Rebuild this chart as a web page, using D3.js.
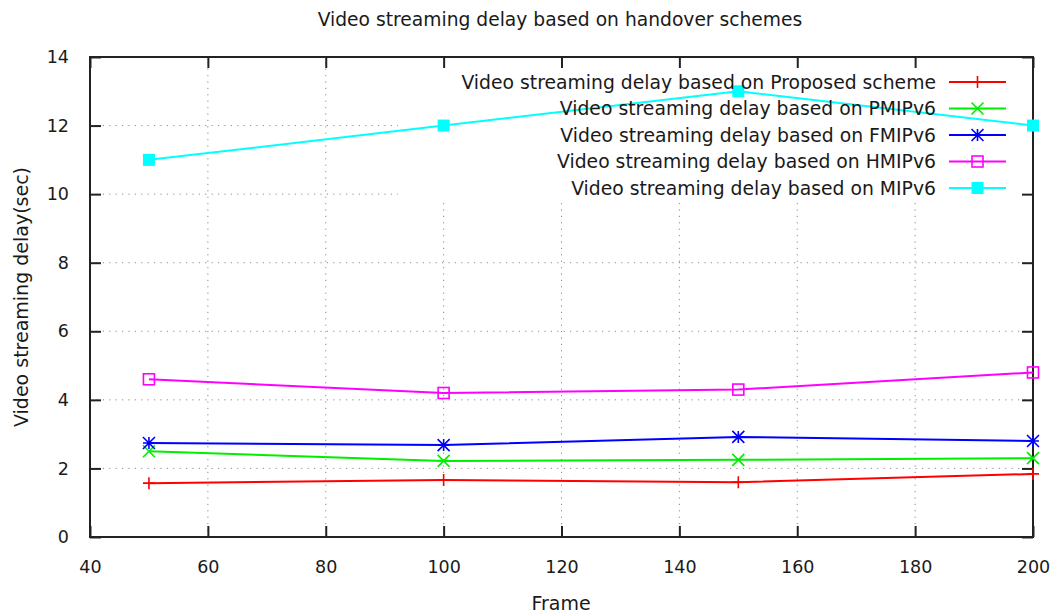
<!DOCTYPE html>
<html>
<head>
<meta charset="utf-8">
<script src="https://cdn.jsdelivr.net/npm/d3@7"></script>
<style>
  html, body { margin: 0; padding: 0; background: #fff; }
  text { font-family: "DejaVu Sans", Verdana, sans-serif; fill: #1a1a1a; }
</style>
</head>
<body>
<svg id="chart" width="1054" height="616"></svg>
<script>
// Frame counts on the x axis
const frames = [50, 100, 150, 200];

// Delay (sec) per handover scheme
const proposedDelay = [1.57, 1.66, 1.60, 1.84];
const pmipv6Delay   = [2.50, 2.22, 2.25, 2.30];
const fmipv6Delay   = [2.74, 2.68, 2.92, 2.80];
const hmipv6Delay   = [4.60, 4.20, 4.30, 4.80];
const mipv6Delay    = [11.0, 12.0, 13.0, 12.0];

const seriesNames = [
  "Video streaming delay based on Proposed scheme",
  "Video streaming delay based on PMIPv6",
  "Video streaming delay based on FMIPv6",
  "Video streaming delay based on HMIPv6",
  "Video streaming delay based on MIPv6"
];

const xTicks = [40, 60, 80, 100, 120, 140, 160, 180, 200];
const yTicks = [0, 2, 4, 6, 8, 10, 12, 14];

const chartTitle = "Video streaming delay based on handover schemes";
const xTitle = "Frame";
const yTitle = "Video streaming delay(sec)";

// Series table built from the arrays above
const seriesValues = [proposedDelay, pmipv6Delay, fmipv6Delay, hmipv6Delay, mipv6Delay];
const seriesColors = ["#ff0000", "#00ee00", "#0000ff", "#ff00ff", "#00ffff"];
const seriesMarkers = ["plus", "cross", "star", "openSquare", "filledSquare"];
const series = seriesNames.map((name, i) => ({
  name, color: seriesColors[i], marker: seriesMarkers[i],
  points: frames.map((f, j) => ({ x: f, y: seriesValues[i][j] }))
}));

const svg = d3.select("#chart");
const L = 90, R = 1033, T = 57, B = 537;

const x = d3.scaleLinear().domain([40, 200]).range([L, R]);
const y = d3.scaleLinear().domain([0, 14]).range([B, T]);

// Legend block (grid is not drawn beneath it)
const legX0 = 398, legY0 = 62, legY1 = 202;

// Grid
const grid = svg.append("g").attr("stroke", "#8a8a8a").attr("stroke-width", 1)
  .attr("stroke-dasharray", "1.2,5.2").attr("fill", "none");
xTicks.slice(1, -1).forEach(t => {
  const px = x(t);
  const yEnd = px > legX0 ? legY1 : T;
  grid.append("line").attr("x1", px).attr("x2", px).attr("y1", B).attr("y2", yEnd);
});
yTicks.slice(1, -1).forEach(t => {
  const py = y(t);
  const xEnd = (py > legY0 && py < legY1) ? legX0 : R;
  grid.append("line").attr("x1", L).attr("x2", xEnd).attr("y1", py).attr("y2", py);
});

// Axes with inward ticks, mirrored on all four sides
const tickLen = 11;
svg.append("g").attr("transform", `translate(0,${B})`)
  .call(d3.axisBottom(x).tickValues(xTicks).tickSize(-tickLen).tickPadding(tickLen + 13).tickFormat(d3.format("d")))
  .call(g => g.select(".domain").remove());
svg.append("g").attr("transform", `translate(0,${T})`)
  .call(d3.axisTop(x).tickValues(xTicks).tickSize(-tickLen).tickFormat(""))
  .call(g => g.select(".domain").remove());
svg.append("g").attr("transform", `translate(${L},0)`)
  .call(d3.axisLeft(y).tickValues(yTicks).tickSize(-tickLen).tickPadding(tickLen + 10).tickFormat(d3.format("d")))
  .call(g => g.select(".domain").remove());
svg.append("g").attr("transform", `translate(${R},0)`)
  .call(d3.axisRight(y).tickValues(yTicks.filter(t => t !== 12)).tickSize(-tickLen).tickFormat(""))
  .call(g => g.select(".domain").remove());
svg.selectAll(".tick line").attr("stroke", "#222").attr("stroke-width", 2);
svg.selectAll(".tick text").attr("font-size", 17.5).attr("fill", "#1a1a1a")
  .attr("font-family", "DejaVu Sans, Verdana, sans-serif");

svg.append("rect").attr("x", L).attr("y", T).attr("width", R - L).attr("height", B - T)
  .attr("fill", "none").attr("stroke", "#222").attr("stroke-width", 2);

// Marker drawing
function drawMarker(g, type, cx, cy, color) {
  const s = 6;
  if (type === "plus") {
    g.append("path").attr("d", `M${cx - s},${cy}H${cx + s}M${cx},${cy - s}V${cy + s}`)
      .attr("stroke", color).attr("stroke-width", 1.6).attr("fill", "none");
  } else if (type === "cross") {
    g.append("path").attr("d", `M${cx - s},${cy - s}L${cx + s},${cy + s}M${cx - s},${cy + s}L${cx + s},${cy - s}`)
      .attr("stroke", color).attr("stroke-width", 1.6).attr("fill", "none");
  } else if (type === "star") {
    g.append("path").attr("d", `M${cx - s},${cy}H${cx + s}M${cx},${cy - s}V${cy + s}M${cx - s},${cy - s}L${cx + s},${cy + s}M${cx - s},${cy + s}L${cx + s},${cy - s}`)
      .attr("stroke", color).attr("stroke-width", 1.6).attr("fill", "none");
  } else if (type === "openSquare") {
    g.append("rect").attr("x", cx - 5.5).attr("y", cy - 5.5).attr("width", 11).attr("height", 11)
      .attr("stroke", color).attr("stroke-width", 1.6).attr("fill", "none");
  } else if (type === "filledSquare") {
    g.append("rect").attr("x", cx - 6).attr("y", cy - 6).attr("width", 12).attr("height", 12)
      .attr("fill", color);
  }
}

// Series lines and markers
const line = d3.line().x(d => x(d.x)).y(d => y(d.y));
series.forEach(s => {
  const g = svg.append("g");
  g.append("path").datum(s.points).attr("d", line)
    .attr("fill", "none").attr("stroke", s.color).attr("stroke-width", 2);
  s.points.forEach(p => drawMarker(g, s.marker, x(p.x), y(p.y), s.color));
});

// Legend
const legend = svg.append("g");
series.forEach((s, i) => {
  const ly = 82 + i * 26.5;
  legend.append("text").attr("x", 936).attr("y", ly).attr("dy", "0.35em")
    .attr("text-anchor", "end").attr("font-size", 18.8).text(s.name);
  legend.append("line").attr("x1", 949).attr("x2", 1006).attr("y1", ly).attr("y2", ly)
    .attr("stroke", s.color).attr("stroke-width", 2);
  drawMarker(legend, s.marker, 977.5, ly, s.color);
});

// Titles
svg.append("text").attr("x", 560).attr("y", 19).attr("dy", "0.35em").attr("text-anchor", "middle")
  .attr("font-size", 18.7).text(chartTitle);
svg.append("text").attr("x", 561).attr("y", 603).attr("dy", "0.35em").attr("text-anchor", "middle")
  .attr("font-size", 19).text(xTitle);
svg.append("text").attr("transform", `translate(21,${297}) rotate(-90)`).attr("dy", "0.35em")
  .attr("text-anchor", "middle").attr("font-size", 19).text(yTitle);
</script>
</body>
</html>
